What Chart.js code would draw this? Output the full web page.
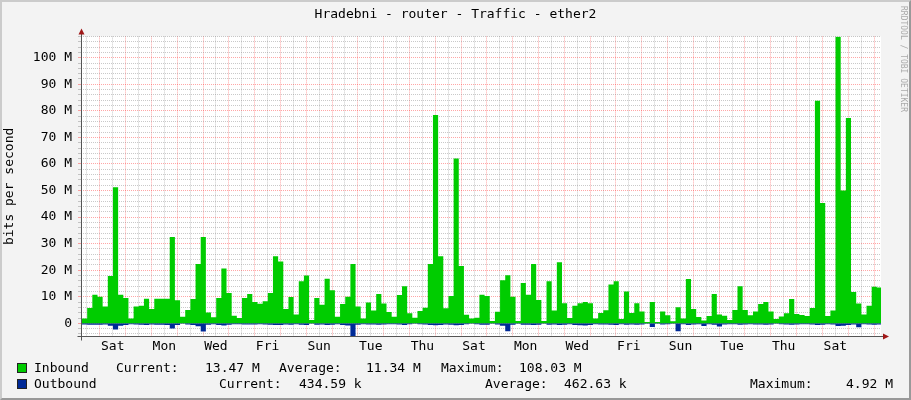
<!DOCTYPE html>
<html>
<head>
<meta charset="utf-8">
<title>Hradebni - router - Traffic - ether2</title>
<script src="https://cdn.jsdelivr.net/npm/chart.js@4.4.1/dist/chart.umd.min.js"></script>
<style>
  html, body { margin: 0; padding: 0; }
  body {
    width: 911px; height: 400px; position: relative; overflow: hidden;
    background: #f3f3f3; color: #000;
    font-family: 'DejaVu Sans Mono', monospace; font-size: 13px;
  }
  canvas { position: absolute; left: 0; top: 0; }
  #frame {
    position: absolute; left: 0; top: 0; width: 907px; height: 396px; pointer-events: none;
    border-top: 2px solid #cbcbcb; border-left: 2px solid #cbcbcb;
    border-right: 2px solid #999; border-bottom: 2px solid #999;
  }
  #title { position: absolute; left: 0; top: 6px; width: 911px; text-align: center; line-height: 16px; }
  #credit {
    position: absolute; left: 898px; top: 6px; writing-mode: vertical-rl;
    font-size: 8px; line-height: 10px; color: #aaa;
  }
  .lg { position: absolute; line-height: 16px; white-space: pre; }
  .box { position: absolute; width: 8px; height: 8px; border: 1px solid #222; }
</style>
</head>
<body>
<canvas id="chart" width="911" height="400"></canvas>
<div id="frame"></div>
<div id="title">Hradebni - router - Traffic - ether2</div>
<div id="credit">RRDTOOL / TOBI OETIKER</div>

<div class="box" style="left:17px; top:363px; background:#00cc00"></div>
<div class="lg" style="left:34px; top:360px">Inbound</div>
<div class="lg" style="left:116px; top:360px">Current:</div>
<div class="lg" style="left:205px; top:360px">13.47 M</div>
<div class="lg" style="left:279px; top:360px">Average:</div>
<div class="lg" style="left:366px; top:360px">11.34 M</div>
<div class="lg" style="left:441px; top:360px">Maximum:</div>
<div class="lg" style="left:519px; top:360px">108.03 M</div>

<div class="box" style="left:17px; top:379px; background:#002a97"></div>
<div class="lg" style="left:34px; top:376px">Outbound</div>
<div class="lg" style="left:219px; top:376px">Current:</div>
<div class="lg" style="left:299px; top:376px">434.59 k</div>
<div class="lg" style="left:485px; top:376px">Average:</div>
<div class="lg" style="left:564px; top:376px">462.63 k</div>
<div class="lg" style="left:750px; top:376px">Maximum:</div>
<div class="lg" style="left:846px; top:376px">4.92 M</div>

<script>
// hours relative to Saturday 00:00 of the first week shown
const rangeStart = -17.5;
const rangeEnd = 726.5;
const firstSampleEnd = -16.57;
const stepHours = 4.8;

const dayNames = ['Sat', 'Sun', 'Mon', 'Tue', 'Wed', 'Thu', 'Fri'];

// Mbit/s, one value per sample
const inbound = [
  2.3, 1.8, 5.8, 10.8, 10.0, 6.3, 17.8, 51.2, 10.8, 9.5,
  1.8, 6.3, 6.6, 9.3, 5.4, 9.3, 9.3, 9.3, 32.5, 8.7,
  2.5, 5.0, 9.2, 22.3, 32.5, 4.1, 2.3, 9.5, 20.6, 11.4,
  2.9, 2.0, 9.5, 11.0, 8.0, 7.4, 8.3, 11.4, 25.3, 23.3,
  5.4, 9.9, 3.3, 15.8, 18.0, 1.3, 9.5, 7.0, 16.8, 12.5,
  2.5, 7.3, 10.0, 22.3, 6.3, 1.8, 7.8, 4.8, 11.0, 7.5,
  4.3, 2.5, 10.7, 14.0, 3.8, 2.1, 4.6, 5.9, 22.3, 78.4,
  25.3, 5.7, 10.3, 62.1, 21.6, 3.2, 1.8, 2.1, 10.8, 10.3,
  0.9, 4.4, 16.2, 18.1, 10.0, 0.9, 15.2, 10.8, 22.3, 8.8,
  0.9, 15.8, 4.8, 23.0, 7.6, 2.0, 6.6, 7.6, 8.0, 7.6,
  1.8, 3.9, 4.9, 14.6, 15.8, 1.6, 12.0, 3.9, 7.6, 4.5,
  0.5, 8.0, 0.5, 4.5, 3.0, 0.8, 6.1, 1.8, 16.7, 5.4,
  2.4, 1.1, 2.8, 11.0, 3.3, 2.9, 1.3, 5.0, 14.0, 5.0,
  3.0, 4.5, 7.3, 8.0, 4.5, 1.6, 2.6, 3.8, 9.2, 3.5,
  3.1, 2.8, 5.8, 83.8, 45.3, 2.8, 4.8, 108.0, 50.0, 77.3,
  11.8, 7.5, 3.3, 6.6, 13.8, 13.5
];

const outbound = [
  0.3, 0.4, 0.5, 0.5, 0.5, 0.4, 0.9, 2.3, 0.9, 0.6,
  0.3, 0.4, 0.5, 0.6, 0.4, 0.5, 0.5, 0.6, 1.9, 0.6,
  0.2, 0.4, 0.6, 1.1, 3.1, 0.5, 0.3, 0.6, 0.8, 0.5,
  0.3, 0.3, 0.4, 0.4, 0.4, 0.3, 0.4, 0.5, 0.6, 0.6,
  0.4, 0.5, 0.3, 0.5, 0.6, 0.2, 0.5, 0.4, 0.6, 0.5,
  0.3, 0.6, 0.8, 4.92, 0.5, 0.3, 0.4, 0.4, 0.5, 0.4,
  0.3, 0.3, 0.4, 0.6, 0.3, 0.2, 0.3, 0.4, 0.6, 0.7,
  0.6, 0.4, 0.5, 0.7, 0.6, 0.3, 0.2, 0.3, 0.5, 0.5,
  0.2, 0.4, 0.9, 3.0, 0.5, 0.2, 0.5, 0.5, 0.6, 0.5,
  0.2, 0.5, 0.4, 0.6, 0.5, 0.3, 0.6, 0.7, 0.8, 0.6,
  0.3, 0.4, 0.4, 0.5, 0.6, 0.3, 0.5, 0.4, 0.5, 0.4,
  0.2, 1.4, 0.2, 0.4, 0.3, 0.2, 3.0, 0.3, 0.6, 0.4,
  0.3, 1.0, 0.3, 0.5, 1.2, 0.4, 0.3, 0.3, 0.5, 0.4,
  0.3, 0.4, 0.4, 0.5, 0.4, 0.2, 0.3, 0.4, 0.5, 0.4,
  0.3, 0.3, 0.4, 0.6, 0.5, 0.3, 0.4, 1.0, 0.9, 0.6,
  0.4, 1.5, 0.3, 0.4, 0.5, 0.43
];

const yMin = -4.92e6;
const yMax = 108.03e6;

// grid: every 12 h on x, every 2 M on y
const xTicks = [];
for (let h = -12; h <= 720; h += 12) xTicks.push(h);
const yTicks = [];
for (let m = -4; m <= 108; m += 2) yTicks.push(m * 1e6);

const majorGrid = 'rgba(255, 0, 0, 0.35)';
const minorGrid = 'rgba(120, 120, 120, 0.4)';

const toPoints = (arr, sign) => arr.map((v, i) => ({
  x: firstSampleEnd + i * stepHours,
  y: sign * v * 1e6
}));

// white canvas behind the plot, axes with arrows on top
const rrdAxes = {
  id: 'rrdAxes',
  beforeDraw(chart) {
    const {ctx, chartArea: a} = chart;
    ctx.save();
    ctx.fillStyle = '#ffffff';
    ctx.fillRect(a.left, a.top, a.right - a.left, a.bottom - a.top);
    ctx.restore();
  },
  afterDraw(chart) {
    const {ctx, chartArea: a} = chart;
    const x0 = Math.round(a.left) + 0.5;
    const y0 = Math.round(a.bottom) + 0.5;
    ctx.save();
    ctx.strokeStyle = '#555';
    ctx.lineWidth = 1;
    ctx.beginPath();
    ctx.moveTo(x0, a.top - 3);
    ctx.lineTo(x0, y0 + 4);
    ctx.moveTo(x0 - 4, y0);
    ctx.lineTo(a.right + 3, y0);
    ctx.stroke();
    ctx.fillStyle = '#a01818';
    ctx.beginPath();
    ctx.moveTo(x0, a.top - 8);
    ctx.lineTo(x0 - 3, a.top - 2);
    ctx.lineTo(x0 + 3, a.top - 2);
    ctx.closePath();
    ctx.fill();
    ctx.beginPath();
    ctx.moveTo(a.right + 8, y0);
    ctx.lineTo(a.right + 2, y0 - 3);
    ctx.lineTo(a.right + 2, y0 + 3);
    ctx.closePath();
    ctx.fill();
    ctx.restore();
  }
};

Chart.defaults.font.family = "'DejaVu Sans Mono', monospace";
Chart.defaults.font.size = 13;
Chart.defaults.color = '#000';

const ctx = document.getElementById('chart').getContext('2d');
new Chart(ctx, {
  type: 'line',
  data: {
    datasets: [{
      label: 'Inbound',
      data: toPoints(inbound, 1),
      backgroundColor: '#00cc00',
      borderColor: 'rgba(0,0,0,0)',
      borderWidth: 0,
      fill: 'origin',
      stepped: 'after',
      pointRadius: 0
    }, {
      label: 'Outbound',
      data: toPoints(outbound, -1),
      backgroundColor: '#002a97',
      borderColor: 'rgba(0,0,0,0)',
      borderWidth: 0,
      fill: 'origin',
      stepped: 'after',
      pointRadius: 0
    }]
  },
  options: {
    responsive: false,
    devicePixelRatio: 1,
    animation: false,
    layout: { padding: { top: 36.4, right: 30, bottom: 38.6, left: 0 } },
    plugins: {
      legend: { display: false },
      tooltip: { enabled: false }
    },
    scales: {
      x: {
        type: 'linear',
        min: rangeStart,
        max: rangeEnd,
        afterBuildTicks: s => { s.ticks = xTicks.map(v => ({ value: v })); },
        afterFit: s => { s.height = 25; },
        border: { display: false, dash: [1, 1] },
        grid: {
          drawTicks: false,
          color: c => (c.tick && c.tick.value % 24 === 0) ? majorGrid : minorGrid
        },
        ticks: {
          autoSkip: false,
          maxRotation: 0,
          padding: 2,
          callback: v => ((v - 12) % 48 === 0) ? dayNames[Math.floor(v / 24) % 7] : ''
        }
      },
      y: {
        type: 'linear',
        min: yMin,
        max: yMax,
        afterBuildTicks: s => { s.ticks = yTicks.map(v => ({ value: v })); },
        afterFit: s => { s.width = 81; },
        border: { display: false, dash: [1, 1] },
        title: {
          display: true,
          text: 'bits per second',
          padding: { top: 2, bottom: 0 }
        },
        grid: {
          tickLength: 3,
          color: c => (c.tick && c.tick.value % 10e6 === 0) ? majorGrid : minorGrid
        },
        ticks: {
          autoSkip: false,
          padding: 6,
          callback: v => (v >= 0 && v % 10e6 === 0) ? (v === 0 ? '0' : (v / 1e6) + ' M') : ''
        }
      }
    }
  },
  plugins: [rrdAxes]
});
</script>
</body>
</html>
